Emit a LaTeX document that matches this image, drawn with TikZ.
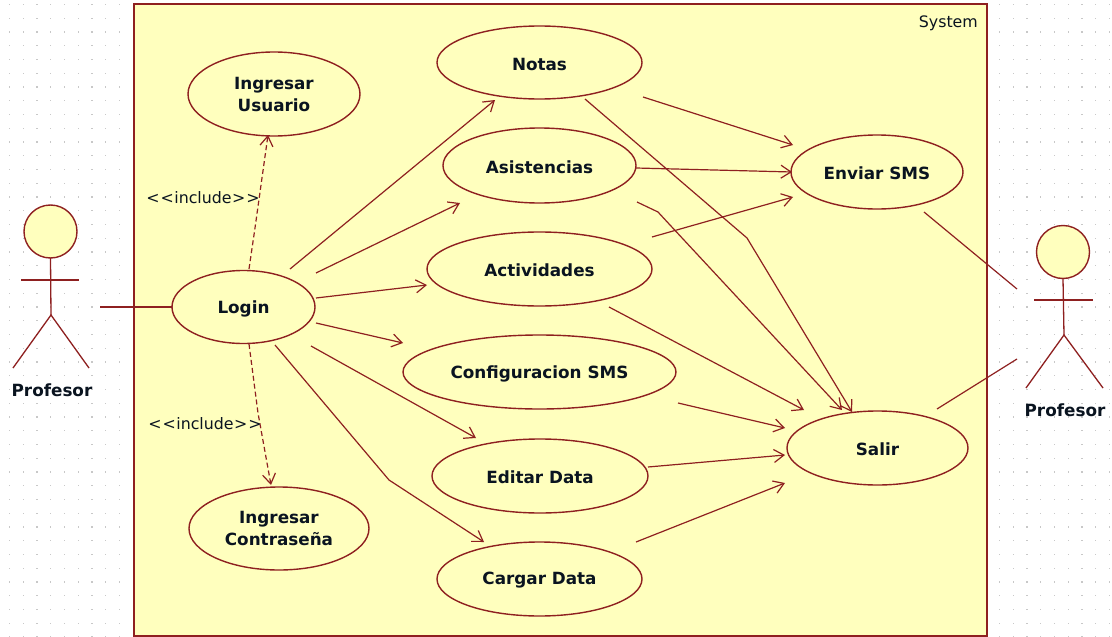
\documentclass[tikz,border=0pt]{standalone}
\usepackage{fontspec}
\setmainfont{DejaVu Sans}
\usetikzlibrary{shapes.geometric,arrows.meta}
\definecolor{umlline}{HTML}{8E2020}
\definecolor{umlfill}{HTML}{FFFFBE}
\definecolor{umltext}{HTML}{0A1420}
\definecolor{griddot}{HTML}{C8C8C8}
\newcommand\dnshift[1]{\raisebox{-1.5pt}[\height][\depth]{#1}}
\tikzset{
  usecase/.style={ellipse,draw=umlline,fill=umlfill,line width=1.4pt,inner sep=0pt,outer sep=0pt,
    text=umltext,font=\fontsize{16.8}{22}\selectfont\bfseries,align=center},
  assoc/.style={draw=umlline,line width=1.2pt},
  flow/.style={assoc,-{Straight Barb[length=10pt,width=13pt,line width=1.2pt]}},
  incl/.style={flow,dash pattern=on 5pt off 3pt},
  actorpart/.style={draw=umlline,line width=1.3pt},
  actorhead/.style={circle,draw=umlline,fill=umlfill,line width=1.4pt,minimum size=53pt,inner sep=0pt,outer sep=0pt},
  actorname/.style={text=umltext,font=\fontsize{16.8}{18}\selectfont\bfseries,inner sep=0pt},
  thinlabel/.style={text=umltext,font=\fontsize{15.8}{18}\selectfont,inner sep=0pt}
}
\begin{document}
\begin{tikzpicture}[x=1pt,y=-1pt]
\useasboundingbox (0,0) rectangle (1112,637);
\fill[white] (0,0) rectangle (1112,637);
% dotted canvas
\foreach \i in {0,...,80}{\foreach \j in {0,...,46}{
  \fill[griddot] ({9.5+13.75*\i-0.6},{4.5+13.75*\j-0.6}) rectangle ++(1.2,1.2);
}}
% system boundary
\node[draw=umlline,fill=umlfill,line width=1.6pt,minimum width=853pt,minimum height=632pt,inner sep=0pt,outer sep=0pt] (system) at (560.5,320) {};
\node[thinlabel,anchor=east] (systemlabel) at (978,23) {System};

% use cases
\node[usecase,minimum width=172pt,minimum height=84pt] (usuario) at (274,94) {Ingresar\\Usuario};
\node[usecase,minimum width=180pt,minimum height=83pt] (contra) at (279,528.5) {Ingresar\\Contraseña};
\node[usecase,minimum width=143pt,minimum height=73pt] (login) at (243.5,307) {\dnshift{Login}};
\node[usecase,minimum width=205pt,minimum height=73pt] (notas) at (539.5,62.5) {\dnshift{Notas}};
\node[usecase,minimum width=193pt,minimum height=75pt] (asis) at (539.5,165.5) {\dnshift{Asistencias}};
\node[usecase,minimum width=225pt,minimum height=74pt] (activ) at (539.5,269) {\dnshift{Actividades}};
\node[usecase,minimum width=273pt,minimum height=74pt] (conf) at (539.5,372) {\dnshift{Configuracion SMS}};
\node[usecase,minimum width=216pt,minimum height=74pt] (edit) at (540,476) {\dnshift{Editar Data}};
\node[usecase,minimum width=205pt,minimum height=74pt] (carg) at (539.5,579) {\dnshift{Cargar Data}};
\node[usecase,minimum width=172pt,minimum height=74pt] (enviar) at (877,172) {\dnshift{Enviar SMS}};
\node[usecase,minimum width=181pt,minimum height=74pt] (salir) at (877.5,448) {\dnshift{Salir}};

% left actor
\node[actorhead] (headL) at (50.5,231.5) {};
\coordinate (hipL) at (51,315);
\draw[actorpart] (headL.south) -- (hipL);
\draw[actorpart] (21,280) -- (79,280);
\draw[actorpart] (13,368) -- (hipL) -- (89,368);
\node[actorname] (nameL) at (52,390) {Profesor};
\coordinate (handL) at (100,307);

% right actor
\node[actorhead] (headR) at (1063,252) {};
\coordinate (hipR) at (1064,335);
\draw[actorpart] (headR.south) -- (hipR);
\draw[actorpart] (1034,300) -- (1093,300);
\draw[actorpart] (1026,388) -- (hipR) -- (1103,388);
\node[actorname] (nameR) at (1065,410) {Profesor};
\coordinate (handRa) at (1017,289);
\coordinate (handRb) at (1017,359);

% bend points
\coordinate (bUsuario) at (255,228);
\coordinate (bContra) at (258,413);
\coordinate (bCarg) at (389,480);
\coordinate (bNotas) at (747,238);
\coordinate (bAsisA) at (658,212);
\coordinate (bAsisB) at (670,225);

% associations
\draw[assoc] (handL) -- (login.west);
\draw[assoc] ([shift={(47,40)}]enviar.center) -- (handRa);
\draw[assoc] ([shift={(59.5,-39)}]salir.center) -- (handRb);

% includes
\draw[incl] ([shift={(5.5,-38)}]login.center) -- (bUsuario) -- ([shift={(-6,41)}]usuario.center);
\draw[incl] ([shift={(5.5,37)}]login.center) -- (bContra) -- ([shift={(-8,-43.5)}]contra.center);
\node[thinlabel] (inclA) at (203,198) {<\kern1pt<\kern0.5pt include\kern0.5pt>\kern1pt>};
\node[thinlabel] (inclB) at (205,424) {<\kern1pt<\kern0.5pt include\kern0.5pt>\kern1pt>};

% login flows
\draw[flow] ([shift={(46.5,-38)}]login.center) -- ([shift={(-44.5,37.5)}]notas.center);
\draw[flow] ([shift={(72.5,-34)}]login.center) -- ([shift={(-79.5,37.5)}]asis.center);
\draw[flow] ([shift={(72.5,-9)}]login.center) -- ([shift={(-112.5,16)}]activ.center);
\draw[flow] ([shift={(72.5,16)}]login.center) -- ([shift={(-136.5,-29)}]conf.center);
\draw[flow] ([shift={(67.5,39)}]login.center) -- ([shift={(-64,-38)}]edit.center);
\draw[flow] ([shift={(31.5,38)}]login.center) -- (bCarg) -- ([shift={(-55.5,-37)}]carg.center);

% to Enviar SMS
\draw[flow] ([shift={(103.5,34.5)}]notas.center) -- ([shift={(-84,-27)}]enviar.center);
\draw[flow] ([shift={(96.5,2.5)}]asis.center) -- ([shift={(-85,0)}]enviar.center);
\draw[flow] ([shift={(112.5,-32)}]activ.center) -- ([shift={(-84,25)}]enviar.center);

% to Salir
\draw[flow] ([shift={(45.5,36.5)}]notas.center) -- (bNotas) -- ([shift={(-25.5,-36)}]salir.center);
\draw[flow] ([shift={(97.5,36.5)}]asis.center) -- (bAsisA) -- (bAsisB) -- ([shift={(-35.5,-38)}]salir.center);
\draw[flow] ([shift={(69.5,38)}]activ.center) -- ([shift={(-73.5,-38)}]salir.center);
\draw[flow] ([shift={(138.5,31)}]conf.center) -- ([shift={(-92.5,-20)}]salir.center);
\draw[flow] ([shift={(108,-9)}]edit.center) -- ([shift={(-92.5,7)}]salir.center);
\draw[flow] ([shift={(96.5,-37)}]carg.center) -- ([shift={(-92.5,35)}]salir.center);
\end{tikzpicture}
\end{document}
